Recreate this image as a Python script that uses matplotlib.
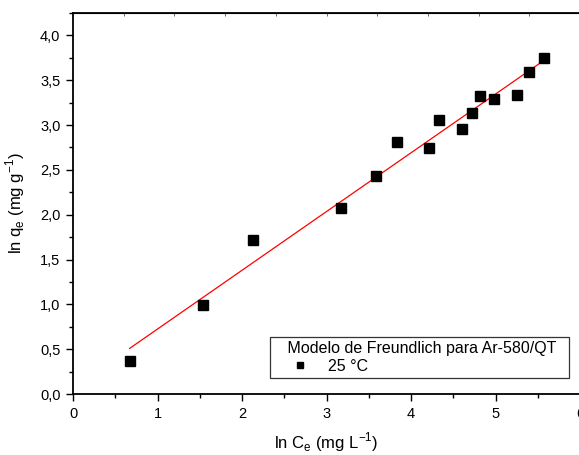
import numpy as np
import matplotlib
matplotlib.use("Agg")
import matplotlib.pyplot as plt
from matplotlib.ticker import FuncFormatter, MultipleLocator

plt.rcParams['font.family'] = ['Liberation Sans', 'DejaVu Sans']
plt.rcParams['mathtext.fontset'] = 'custom'
plt.rcParams['mathtext.rm'] = 'Liberation Sans'

# ln Ce and ln qe values
ln_ce = [0.67, 1.54, 2.13, 3.17, 3.58, 3.83, 4.21, 4.33, 4.60, 4.72, 4.82, 4.98, 5.25, 5.40, 5.57]
ln_qe = [0.37, 0.99, 1.72, 2.07, 2.43, 2.81, 2.74, 3.06, 2.96, 3.13, 3.32, 3.29, 3.34, 3.59, 3.75]
legend_title = "Modelo de Freundlich para Ar-580/QT"
series_label = "25 °C"

fig = plt.figure(figsize=(5.79, 4.55), dpi=100)
ax = fig.add_axes([73/579, 61/455, 507/579, 381/455])

# linear fit (Freundlich)
slope, inter = np.polyfit(ln_ce, ln_qe, 1)
xf = np.array([min(ln_ce), max(ln_ce)])
ax.plot(xf, slope*xf + inter, color='red', lw=0.9)
ax.plot(ln_ce, ln_qe, 's', color='black', ms=6.5, label=series_label)

ax.set_xlim(0, 6)
ax.set_ylim(0, 4.25)
ax.xaxis.set_major_locator(MultipleLocator(1))
ax.xaxis.set_minor_locator(MultipleLocator(0.5))
ax.yaxis.set_major_locator(MultipleLocator(0.5))
ax.yaxis.set_minor_locator(MultipleLocator(0.25))
ax.yaxis.set_major_formatter(FuncFormatter(lambda v, p: f"{v:.1f}".replace('.', ',')))
ax.tick_params(which='major', direction='out', length=5, width=1, labelsize=10.5, pad=4)
ax.tick_params(which='minor', direction='out', length=3, width=1)
ax.tick_params(top=False, right=False)
for s in ax.spines.values():
    s.set_linewidth(1.3)

# small inward ticks on the top axis
top = ax.secondary_xaxis('top')
top.set_xticks(np.arange(0, 6.01, 0.6))
top.tick_params(direction='in', length=2, width=0.6, labeltop=False, color='#555555')

ax.set_xlabel("ln C$_\\mathregular{e}$ (mg L$^\\mathregular{-1}$)", fontsize=12, labelpad=7)
ax.set_ylabel("ln q$_\\mathregular{e}$ (mg g$^\\mathregular{-1}$)", fontsize=12, labelpad=9)

leg = ax.legend(title="   " + legend_title + "  ", loc='lower right',
                bbox_to_anchor=(496/507, 16/381),
                fontsize=11.5, title_fontsize=11.5, frameon=True, fancybox=False,
                edgecolor='black', handlelength=3.3, borderpad=0.25, labelspacing=0.2,
                alignment='left', markerscale=0.7, handletextpad=0.1, borderaxespad=0)
leg.get_frame().set_linewidth(0.9)

fig.savefig("out.png", dpi=100)
